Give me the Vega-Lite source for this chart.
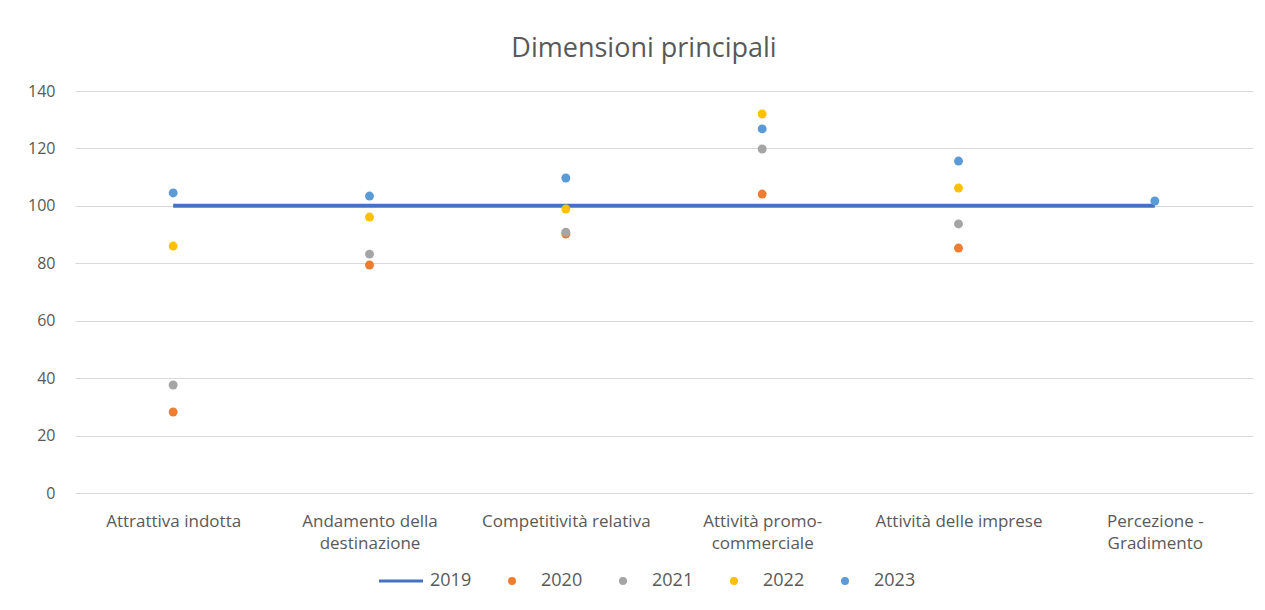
{
  "$schema": "https://vega.github.io/schema/vega-lite/v6.json",
  "autosize": {"type": "none"},
  "width": 1178,
  "height": 402,
  "padding": {"left": 75, "top": 91, "right": 12, "bottom": 117},
  "background": "white",
  "config": {
    "font": "Open Sans",
    "view": {"stroke": null},
    "axis": {"labelColor": "#595959", "labelFont": "Open Sans", "domain": false, "ticks": false, "gridColor": "#d9d9d9", "gridWidth": 1},
    "legend": {"labelColor": "#595959", "labelFont": "Open Sans", "labelFontSize": 18}
  },
  "title": {"text": "Dimensioni principali", "fontSize": 27, "font": "Open Sans", "fontWeight": "normal", "color": "#595959", "anchor": "middle", "offset": 20, "dx": -20},
  "data": {"values": [
    {"cat": "Attrattiva indotta", "year": "2019", "value": 100},
    {"cat": "Andamento della destinazione", "year": "2019", "value": 100},
    {"cat": "Competitività relativa", "year": "2019", "value": 100},
    {"cat": "Attività promo-commerciale", "year": "2019", "value": 100},
    {"cat": "Attività delle imprese", "year": "2019", "value": 100},
    {"cat": "Percezione - Gradimento", "year": "2019", "value": 100},
    {"cat": "Attrattiva indotta", "year": "2020", "value": 28.2},
    {"cat": "Andamento della destinazione", "year": "2020", "value": 79.4},
    {"cat": "Competitività relativa", "year": "2020", "value": 90.2},
    {"cat": "Attività promo-commerciale", "year": "2020", "value": 104.1},
    {"cat": "Attività delle imprese", "year": "2020", "value": 85.3},
    {"cat": "Attrattiva indotta", "year": "2021", "value": 37.6},
    {"cat": "Andamento della destinazione", "year": "2021", "value": 83.2},
    {"cat": "Competitività relativa", "year": "2021", "value": 90.8},
    {"cat": "Attività promo-commerciale", "year": "2021", "value": 119.8},
    {"cat": "Attività delle imprese", "year": "2021", "value": 93.7},
    {"cat": "Attrattiva indotta", "year": "2022", "value": 86.0},
    {"cat": "Andamento della destinazione", "year": "2022", "value": 96.1},
    {"cat": "Competitività relativa", "year": "2022", "value": 98.9},
    {"cat": "Attività promo-commerciale", "year": "2022", "value": 132.0},
    {"cat": "Attività delle imprese", "year": "2022", "value": 106.2},
    {"cat": "Attrattiva indotta", "year": "2023", "value": 104.5},
    {"cat": "Andamento della destinazione", "year": "2023", "value": 103.4},
    {"cat": "Competitività relativa", "year": "2023", "value": 109.7},
    {"cat": "Attività promo-commerciale", "year": "2023", "value": 126.8},
    {"cat": "Attività delle imprese", "year": "2023", "value": 115.6},
    {"cat": "Percezione - Gradimento", "year": "2023", "value": 101.7}
  ]},
  "encoding": {
    "x": {
      "field": "cat", "type": "nominal", "title": null,
      "scale": {"type": "point", "padding": 0.5, "domain": ["Attrattiva indotta", "Andamento della destinazione", "Competitività relativa", "Attività promo-commerciale", "Attività delle imprese", "Percezione - Gradimento"]},
      "axis": {"labelAngle": 0, "labelPadding": 20, "labelBaseline": "top", "labelLineHeight": 22, "labelFontSize": 17,
        "labelExpr": "datum.value == 'Andamento della destinazione' ? ['Andamento della', 'destinazione'] : datum.value == 'Attività promo-commerciale' ? ['Attività promo-', 'commerciale'] : datum.value == 'Percezione - Gradimento' ? ['Percezione -', 'Gradimento'] : datum.value"}
    },
    "y": {
      "field": "value", "type": "quantitative", "title": null,
      "scale": {"domain": [0, 140], "nice": false},
      "axis": {"values": [0, 20, 40, 60, 80, 100, 120, 140], "labelPadding": 20, "labelFontSize": 16}
    },
    "color": {
      "field": "year", "type": "nominal", "title": null,
      "scale": {"domain": ["2019", "2020", "2021", "2022", "2023"], "range": ["#4472C4", "#ED7D31", "#A5A5A5", "#FFC000", "#5B9BD5"]},
      "legend": {"orient": "none", "legendX": 317, "legendY": 481, "direction": "horizontal", "symbolSize": 64, "labelOffset": 20, "columnPadding": 31,
        "encode": {"symbols": {"update": {
          "shape": {"signal": "datum.value === '2019' ? 'M-5.5,0H5.5' : 'circle'"},
          "fill": {"signal": "datum.value === '2019' ? 'transparent' : scale('color', datum.value)"},
          "stroke": {"signal": "scale('color', datum.value)"},
          "strokeWidth": {"signal": "datum.value === '2019' ? 3 : 0"},
          "opacity": {"value": 1}
        }}}}
    }
  },
  "layer": [
    {
      "transform": [{"filter": "datum.year === '2019'"}],
      "mark": {"type": "line", "strokeWidth": 4}
    },
    {
      "transform": [{"filter": "datum.year !== '2019'"}],
      "mark": {"type": "point", "filled": true, "size": 80, "opacity": 1}
    }
  ]
}
